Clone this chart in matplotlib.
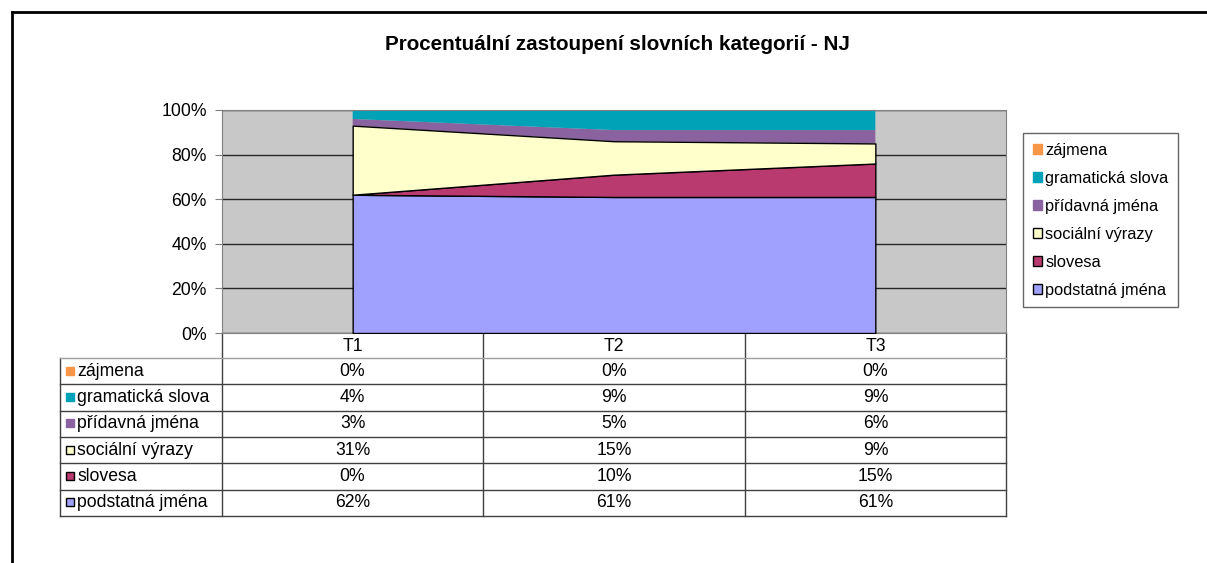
import matplotlib
matplotlib.use('Agg')
import matplotlib.pyplot as plt
from matplotlib.patches import Patch, Rectangle
from matplotlib.lines import Line2D
import numpy as np

plt.rcParams['font.family'] = ['Liberation Sans', 'DejaVu Sans']

W, H = 1207, 563

periods = ['T1', 'T2', 'T3']
# stack order, bottom to top
categories = ['podstatná jména', 'slovesa', 'sociální výrazy',
              'přídavná jména', 'gramatická slova', 'zájmena']
podstatna = [62, 61, 61]
slovesa = [0, 10, 15]
socialni = [31, 15, 9]
pridavna = [3, 5, 6]
gramaticka = [4, 9, 9]
zajmena = [0, 0, 0]
series = [podstatna, slovesa, socialni, pridavna, gramaticka, zajmena]

colors = ['#A0A0FF', '#B93A6E', '#FFFFCC', '#8A62A0', '#00A2B8', '#F79646']
outlined = [True, True, True, False, False, False]


def px_box(x0, y0, x1, y1):
    return [x0 / W, 1 - y1 / H, (x1 - x0) / W, (y1 - y0) / H]


fig = plt.figure(figsize=(W / 100, H / 100), dpi=100)

# --- 100 % stacked area ---
vals = np.array(series, dtype=float)
pct = vals / vals.sum(axis=0) * 100
x = np.arange(len(periods))

ax = fig.add_axes(px_box(222, 110, 1006, 333))
ax.set_facecolor('#C8C8C8')
polys = ax.stackplot(x, pct, colors=colors)
for p, o in zip(polys, outlined):
    if o:
        p.set_edgecolor('black')
        p.set_linewidth(1)
        p.set_zorder(3)
    else:
        p.set_edgecolor('none')
        p.set_zorder(2)

ax.set_xlim(-0.5, len(periods) - 0.5)
ax.set_ylim(0, 100)
ax.set_yticks(range(0, 101, 20))
ax.set_yticklabels([f'{v}%' for v in range(0, 101, 20)], fontsize=12.7)
ax.tick_params(axis='y', length=5, color='#808080', pad=6)
ax.set_xticks([])
ax.set_axisbelow(True)
ax.yaxis.grid(True, color='#262626', lw=1)
for s in ax.spines.values():
    s.set_color('#808080')

fig.text(617 / W, 1 - 45 / H, 'Procentuální zastoupení slovních kategorií - NJ',
         ha='center', va='center', fontsize=14.9, fontweight='bold')

# --- data table ---
tab = fig.add_axes([0, 0, 1, 1])
tab.set_xlim(0, W)
tab.set_ylim(H, 0)
tab.axis('off')
tab.set_zorder(-1)

col_edges = [222, 483, 745, 1006]
label_left = 60
head_top, head_bot = 333, 358
row_h = 26.3
rows = list(reversed(range(len(categories))))
n_rows = len(rows)
tab_bot = head_bot + n_rows * row_h
line_c = '#404040'

for cx in col_edges:
    tab.plot([cx, cx], [head_top, tab_bot], color=line_c, lw=1)
tab.plot([label_left, label_left], [head_bot, tab_bot], color=line_c, lw=1)
for i in range(1, n_rows + 1):
    yy = head_bot + i * row_h
    tab.plot([label_left, col_edges[-1]], [yy, yy], color=line_c, lw=1)
tab.plot([label_left, col_edges[-1]], [head_bot, head_bot], color='#A0A0A0', lw=1)

for j, per in enumerate(periods):
    cxm = (col_edges[j] + col_edges[j + 1]) / 2
    tab.text(cxm, (head_top + head_bot) / 2 + 1, per, ha='center', va='center', fontsize=12.7)

for r, k in enumerate(rows):
    yc = head_bot + (r + 0.5) * row_h
    ec = 'black' if outlined[k] else colors[k]
    tab.add_patch(Rectangle((66, yc - 4.5), 8, 8, facecolor=colors[k], edgecolor=ec, lw=1))
    tab.text(77, yc, categories[k], ha='left', va='center', fontsize=12.7)
    for j in range(len(periods)):
        cxm = (col_edges[j] + col_edges[j + 1]) / 2
        tab.text(cxm, yc, f'{series[k][j]}%', ha='center', va='center', fontsize=12.7)

# --- legend ---
handles = []
for k in rows:
    ec = 'black' if outlined[k] else colors[k]
    handles.append(Patch(facecolor=colors[k], edgecolor=ec, lw=1, label=categories[k]))
leg = fig.legend(handles=handles, loc='upper left',
                 bbox_to_anchor=(1023 / W, 1 - 133 / H), fontsize=11.8,
                 frameon=True, fancybox=False, edgecolor='#404040',
                 handlelength=0.55, handleheight=0.55, handletextpad=0.2,
                 labelspacing=0.79, borderpad=0.6, borderaxespad=0)
leg.get_frame().set_linewidth(1)

# outer frame (left and top)
fig.add_artist(Line2D([12 / W, 12 / W], [0, 1 - 12 / H], transform=fig.transFigure,
                      color='black', lw=2))
fig.add_artist(Line2D([12 / W, 1], [1 - 12 / H, 1 - 12 / H], transform=fig.transFigure,
                      color='black', lw=2))

fig.savefig('out.png', dpi=100, facecolor='white')
